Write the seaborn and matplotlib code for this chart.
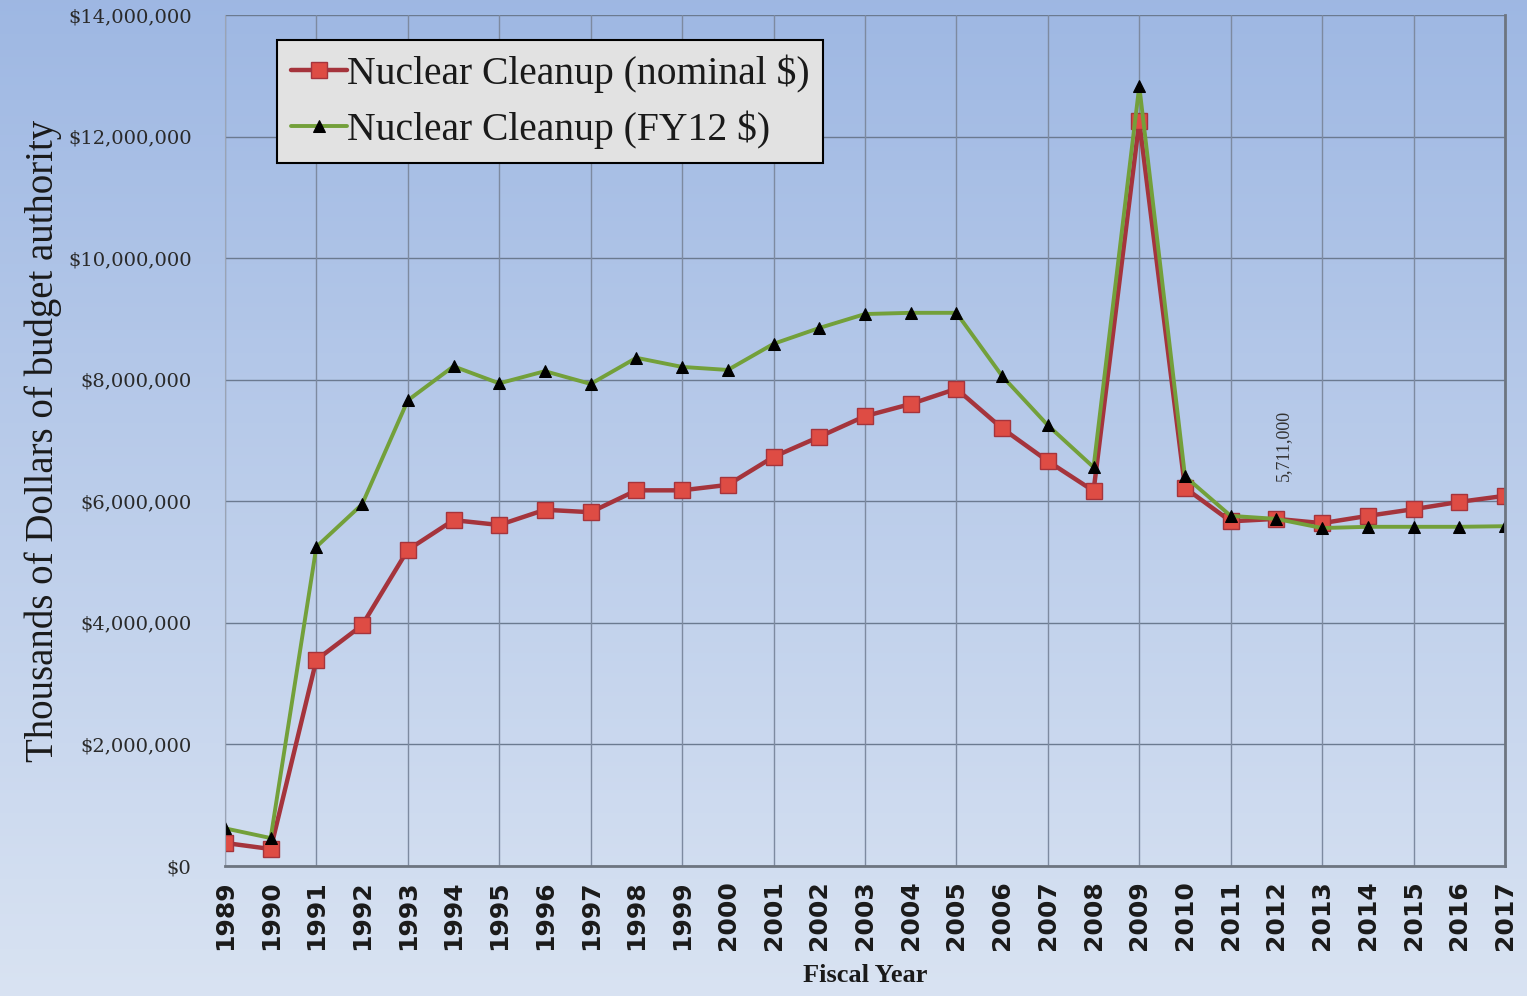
import numpy as np
import pandas as pd
import matplotlib
matplotlib.use("Agg")
import matplotlib.pyplot as plt
import seaborn as sns
from matplotlib.ticker import FuncFormatter, MultipleLocator

# Datos (miles de dólares)
years = list(range(1989, 2018))
nominal = [380000, 280000, 3390000, 3960000, 5200000, 5690000, 5610000, 5860000,
           5820000, 6180000, 6180000, 6270000, 6730000, 7060000, 7400000, 7600000,
           7850000, 7200000, 6660000, 6170000, 12250000, 6220000, 5670000, 5711000,
           5640000, 5760000, 5870000, 5990000, 6090000]
fy12 = [620000, 460000, 5250000, 5950000, 7660000, 8220000, 7940000, 8140000,
        7930000, 8360000, 8210000, 8160000, 8590000, 8850000, 9080000, 9100000,
        9100000, 8060000, 7250000, 6560000, 12830000, 6410000, 5760000, 5710000,
        5560000, 5580000, 5580000, 5580000, 5590000]
series_names = ["Nuclear Cleanup (nominal $)", "Nuclear Cleanup (FY12 $)"]
annotation = "5,711,000"

df = pd.DataFrame({"Year": years, series_names[0]: nominal, series_names[1]: fy12})

sns.set_style("white")
serif = ["Liberation Serif", "DejaVu Serif"]

fig = plt.figure(figsize=(15.27, 9.96), dpi=100)

# Fondo degradado
bg = fig.add_axes([0, 0, 1, 1], zorder=-10)
grad = np.linspace(0, 1, 256).reshape(-1, 1)
top = np.array([0.62, 0.72, 0.89])
bottom = np.array([0.85, 0.89, 0.95])
img = top + (bottom - top) * grad[..., None]
bg.imshow(img.reshape(256, 1, 3), aspect="auto", extent=[0, 1, 0, 1])
bg.axis("off")

ax = fig.add_axes([0.1473, 0.1305, 0.8383, 0.8545])
ax.patch.set_alpha(0)

sns.lineplot(data=df, x="Year", y=series_names[0], ax=ax, color="#a5343c",
             linewidth=3.2, marker="s", markersize=12, markerfacecolor="#de4c44",
             markeredgecolor="#a5343c", markeredgewidth=1, label=series_names[0])
sns.lineplot(data=df, x="Year", y=series_names[1], ax=ax, color="#73a03a",
             linewidth=2.8, marker="^", markersize=8, markerfacecolor="black",
             markeredgecolor="black", label=series_names[1])

ax.set_xlim(1989, 2017)
ax.set_ylim(0, 14000000)
ax.set_xticks(years)
ax.set_xticklabels([str(y) for y in years], rotation=90, fontsize=18,
                   fontweight="bold", family="DejaVu Sans", color="#1a1a1a")
ax.yaxis.set_major_locator(MultipleLocator(2000000))
ax.yaxis.set_major_formatter(FuncFormatter(lambda v, p: f"${v:,.0f}"))
for lbl in ax.get_yticklabels():
    lbl.set_family("DejaVu Serif")
    lbl.set_fontsize(14)
    lbl.set_color("#2a2a2a")

# Rejilla: horizontal cada 2M, vertical cada dos años
for v in range(0, 14000001, 2000000):
    ax.axhline(v, color="#6b7a90", linewidth=1, zorder=0)
for y in years[::2]:
    ax.axvline(y, color="#7d8aa0", linewidth=1, zorder=0)

ax.tick_params(axis="x", length=6, color="#999999", pad=4)
ax.tick_params(axis="y", length=0, pad=24)
ax.spines["top"].set_visible(False)
ax.spines["left"].set_color("#9aa4b5")
ax.spines["bottom"].set_color("#6d7580")
ax.spines["bottom"].set_linewidth(2)
ax.spines["right"].set_color("#6d7580")
ax.spines["right"].set_linewidth(2)

ax.set_xlabel("Fiscal Year", family=serif, fontsize=19, fontweight="bold",
              labelpad=10, color="#1a1a1a")
ax.set_ylabel("Thousands of Dollars of budget authority", family=serif, fontsize=28,
              labelpad=4, color="#1a1a1a")

ax.text(2012.15, 6330000, annotation, rotation=90, fontsize=13, family=serif,
        va="bottom", ha="center", color="#333333")

leg = ax.legend(loc="upper left", bbox_to_anchor=(0.041, 0.97), frameon=True,
                fancybox=False, prop={"family": serif, "size": 28.5},
                handlelength=1.4, handletextpad=0.0, labelspacing=0.45,
                borderpad=0.35, borderaxespad=0)
leg.get_frame().set_facecolor("#e2e2e2")
leg.get_frame().set_edgecolor("black")
leg.get_frame().set_linewidth(1.5)
leg.get_frame().set_alpha(1)
for t in leg.get_texts():
    t.set_color("#1a1a1a")

fig.savefig("out.png", dpi=100)
